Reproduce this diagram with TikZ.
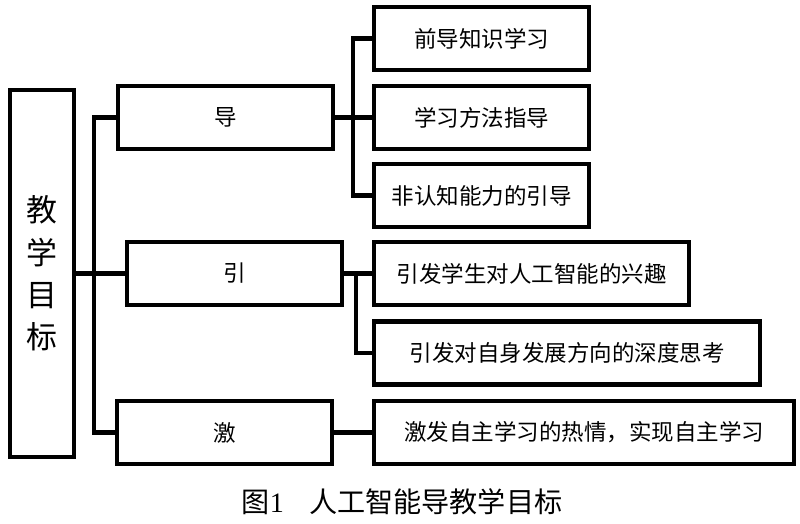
\documentclass[tikz,border=0pt]{standalone}
\usepackage{fontspec}
\setmainfont{Liberation Serif}
\newfontfamily\cjk{Noto Sans CJK SC}
\usepackage{tikz}
\tikzstyle{goal} = [rectangle, draw, line width=3pt, minimum width=1.6cm, minimum height=9.175cm, inner sep=0pt, align=center, font=\cjk\fontsize{22}{30}\selectfont]
\tikzstyle{stage} = [rectangle, draw, line width=3pt, minimum width=5.375cm, minimum height=1.575cm, inner sep=0pt, text centered, font=\cjk\fontsize{16}{20}\selectfont]
\tikzstyle{task} = [stage, minimum height=1.575cm]
\tikzstyle{caption} = [inner sep=0pt, font=\fontsize{20}{24}\selectfont]
\tikzstyle{link} = [line width=3pt]

\begin{document}
\begin{tikzpicture}[x=0.025cm, y=-0.025cm]
    \useasboundingbox (0,0) rectangle (800,524);
    \node [goal] at (42,273.5) (main) {教\\学\\目\\标};
    \node [stage] at (225.5,117.5) (dao) {导};
    \node [stage] at (234.5,273.5) (yin) {引};
    \node [stage] at (224.5,432.5) (ji) {激};
    \node [task, minimum width=5.375cm] at (481.5,38.5) (qiandao) {前导知识学习};
    \node [task, minimum width=5.375cm] at (481.5,117.5) (fangfa) {学习方法指导};
    \node [task, minimum width=5.375cm] at (481.5,195.5) (feirenzhi) {非认知能力的引导};
    \node [task, minimum width=7.875cm] at (531.5,273.5) (xingqu) {引发学生对人工智能的兴趣};
    \node [task, minimum width=9.65cm] at (567,353) (sikao) {引发对自身发展方向的深度思考};
    \node [task, minimum width=10.5cm] at (584,432.5) (reqing) {激发自主学习的热情，实现自主学习};
    \node [caption] at (402,502) (cap) {{\cjk 图}1\hspace{0.9em}{\cjk 人工智能导教学目标}};

    \draw [link] (main) -- (yin);
    \draw [link] (dao.west) -- ++(-22,0) |- (ji.west);
    \draw [link] (dao) -- (fangfa);
    \draw [link] (qiandao.west) -- ++(-19,0) |- (feirenzhi.west);
    \draw [link] (yin) -- (xingqu);
    \draw [link] (xingqu.west) -- ++(-16,0) |- (sikao.west);
    \draw [link] (ji) -- (reqing);
\end{tikzpicture}
\end{document}
